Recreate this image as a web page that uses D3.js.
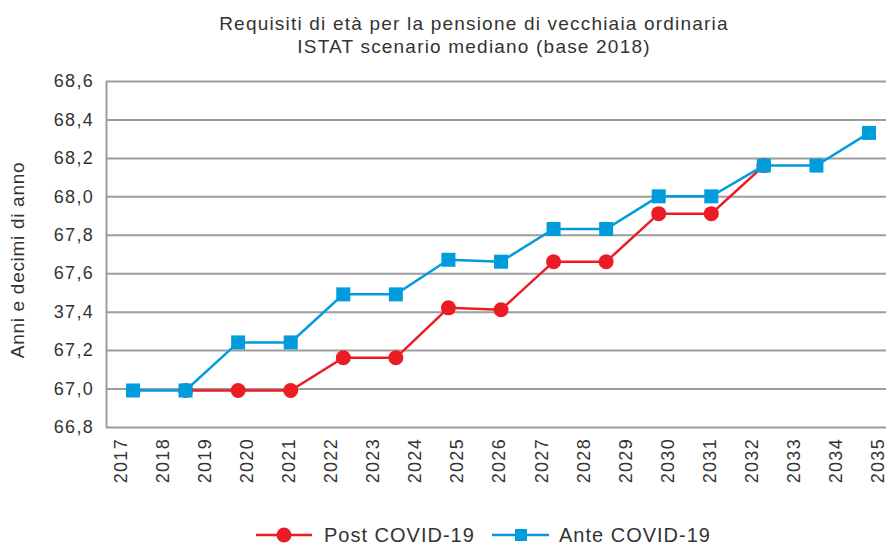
<!DOCTYPE html>
<html>
<head>
<meta charset="utf-8">
<script src="https://cdn.jsdelivr.net/npm/d3@7"></script>
<style>
  body { margin: 0; background: #fff; }
  svg text { font-family: "Liberation Sans", Arial, sans-serif; fill: #333; }
  .grid line { stroke: #9d9d9d; stroke-width: 2; }
</style>
</head>
<body>
<div id="chart"></div>
<script>
// data
var years = ['2017','2018','2019','2020','2021','2022','2023','2024','2025','2026',
  '2027','2028','2029','2030','2031','2032','2033','2034','2035'];
var yTicks = [66.8, 67.0, 67.2, 67.4, 67.6, 67.8, 68.0, 68.2, 68.4, 68.6];
var yTickLabels = ['66,8','67,0','67,2','37,4','67,6','67,8','68,0','68,2','68,4','68,6'];
var ante = [66.99, 66.99, 67.24, 67.24, 67.49, 67.49, 67.67, 67.66, 67.83, 67.83, 68.0, 68.0, 68.16, 68.16, 68.33];
var post = [null, 66.99, 66.99, 66.99, 67.16, 67.16, 67.42, 67.41, 67.66, 67.66, 67.91, 67.91, 68.16, null, null];

var $red = '#ec1c24',
	$blue = '#009cdc';
var width = 886, height = 545;
var pLeft = 106, pRight = 886, pTop = 81, pBottom = 427;

var svg = d3.select('#chart').append('svg')
	.attr('width', width)
	.attr('height', height);

// scales
var x = d3.scalePoint()
	.domain(d3.range(ante.length))
	.range([133, 869]);
var xLab = d3.scalePoint()
	.domain(years)
	.range([120, 877]);
var y = d3.scaleLinear()
	.domain([66.8, 68.6])
	.range([pBottom, pTop]);

// title
svg.append('text')
	.attr('x', 474).attr('y', 30)
	.attr('text-anchor', 'middle')
	.style('font-size', '19px')
	.style('letter-spacing', '1.2px')
	.text('Requisiti di età per la pensione di vecchiaia ordinaria');
svg.append('text')
	.attr('x', 474).attr('y', 53)
	.attr('text-anchor', 'middle')
	.style('font-size', '19px')
	.style('letter-spacing', '1.2px')
	.text('ISTAT scenario mediano (base 2018)');

// griglia + asse y
var gy = svg.append('g')
	.attr('class', 'grid')
	.attr('transform', 'translate(' + pLeft + ',0)')
	.call(d3.axisLeft(y)
		.tickValues(yTicks)
		.tickFormat(function(d, i) { return yTickLabels[i]; })
		.tickSize(-(pRight - pLeft))
		.tickSizeOuter(0)
		.tickPadding(12));
gy.select('.domain').attr('stroke', '#9d9d9d').attr('stroke-width', 2);
gy.selectAll('text')
	.style('font-family', '"Liberation Sans", Arial, sans-serif')
	.style('font-size', '18px')
	.style('letter-spacing', '1.3px')
	.attr('fill', '#333');

svg.append('text')
	.attr('transform', 'translate(24,260) rotate(-90)')
	.attr('text-anchor', 'middle')
	.style('font-size', '19px')
	.style('letter-spacing', '0.7px')
	.text('Anni e decimi di anno');

// asse x
var gx = svg.append('g')
	.attr('transform', 'translate(0,' + pBottom + ')')
	.call(d3.axisBottom(xLab).tickSize(0));
gx.select('.domain').remove();
gx.selectAll('text')
	.attr('transform', 'rotate(-90)')
	.attr('text-anchor', 'end')
	.attr('x', -11)
	.attr('y', 0)
	.attr('dy', '0.36em')
	.attr('fill', '#333')
	.style('font-family', '"Liberation Sans", Arial, sans-serif')
	.style('font-size', '18px')
	.style('letter-spacing', '1.3px');

// linee
var line = d3.line()
	.defined(function(d) { return d != null; })
	.x(function(d, i) { return x(i); })
	.y(function(d) { return y(d); });

svg.append('path')
	.datum(post)
	.attr('d', line)
	.attr('fill', 'none')
	.attr('stroke', $red)
	.attr('stroke-width', 2.5);

svg.append('g').selectAll('circle')
	.data(post.map(function(v, i) { return { v: v, i: i }; }).filter(function(d) { return d.v != null; }))
	.enter()
		.append('circle')
		.attr('cx', function(d) { return x(d.i); })
		.attr('cy', function(d) { return y(d.v); })
		.attr('r', 7.5)
		.attr('fill', $red);

svg.append('path')
	.datum(ante)
	.attr('d', line)
	.attr('fill', 'none')
	.attr('stroke', $blue)
	.attr('stroke-width', 2.5);

var sq = 14;
svg.append('g').selectAll('rect')
	.data(ante)
	.enter()
		.append('rect')
		.attr('x', function(d, i) { return x(i) - sq / 2; })
		.attr('y', function(d) { return y(d) - sq / 2; })
		.attr('width', sq)
		.attr('height', sq)
		.attr('fill', $blue);

// legenda
var lg = svg.append('g').attr('transform', 'translate(0,535)');
lg.append('line').attr('x1', 256).attr('x2', 312).attr('stroke', $red).attr('stroke-width', 2.5);
lg.append('circle').attr('cx', 284).attr('r', 7.5).attr('fill', $red);
lg.append('text').attr('x', 324).attr('dy', '0.36em').style('font-size', '20px').style('letter-spacing', '1px').text('Post COVID-19');
lg.append('line').attr('x1', 492).attr('x2', 549).attr('stroke', $blue).attr('stroke-width', 2.5);
lg.append('rect').attr('x', 515).attr('y', -6).attr('width', 12).attr('height', 12).attr('fill', $blue);
lg.append('text').attr('x', 559).attr('dy', '0.36em').style('font-size', '20px').style('letter-spacing', '1px').text('Ante COVID-19');
</script>
</body>
</html>
